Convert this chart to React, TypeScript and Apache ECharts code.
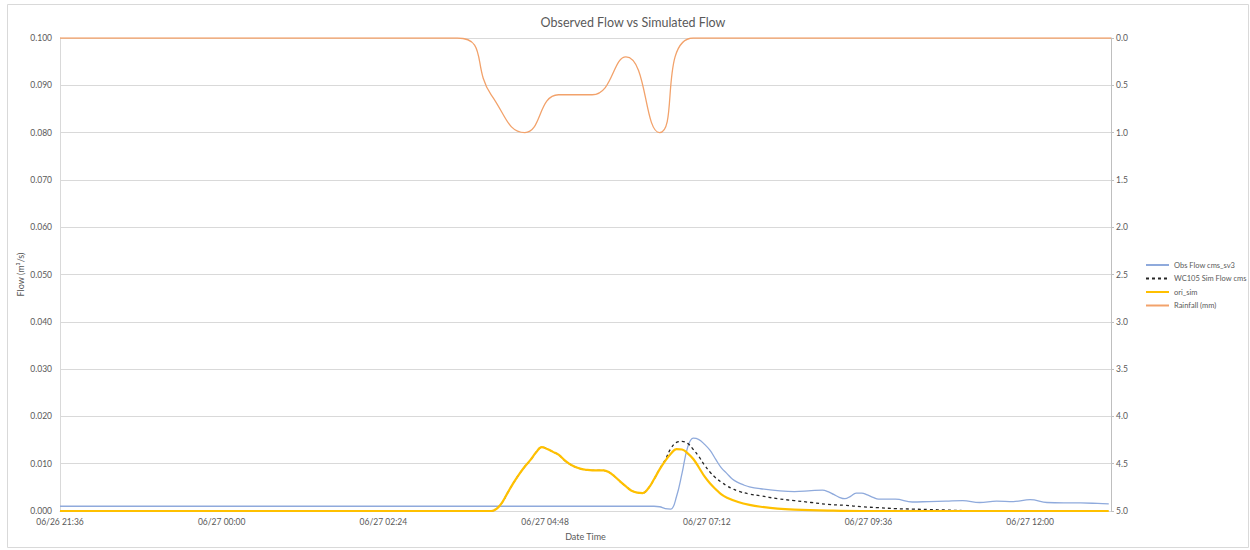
import React, { useEffect, useRef } from "react";
import * as echarts from "echarts";

// ---- Data ----
const obsTimes = [
  "06/26 21:36", "06/27 06:25", "06/27 06:30", "06/27 06:35", "06/27 06:40", "06/27 06:45",
  "06/27 06:50", "06/27 06:55", "06/27 07:00", "06/27 07:05", "06/27 07:10", "06/27 07:15",
  "06/27 07:20", "06/27 07:25", "06/27 07:30", "06/27 07:35", "06/27 07:40", "06/27 07:45",
  "06/27 07:50", "06/27 08:00", "06/27 08:15", "06/27 08:30", "06/27 08:45", "06/27 08:55",
  "06/27 09:00", "06/27 09:05", "06/27 09:10", "06/27 09:15", "06/27 09:20", "06/27 09:25",
  "06/27 09:30", "06/27 09:35", "06/27 09:40", "06/27 09:45", "06/27 10:00", "06/27 10:15",
  "06/27 10:30", "06/27 10:45", "06/27 11:00", "06/27 11:15", "06/27 11:30", "06/27 11:45",
  "06/27 12:00", "06/27 12:15", "06/27 12:30", "06/27 12:45", "06/27 13:00", "06/27 13:10",
];
const obsFlow = [
  0.0010, 0.0010, 0.0009, 0.0005, 0.0004, 0.0030,
  0.0080, 0.0135, 0.0154, 0.0151, 0.0141, 0.0128,
  0.0109, 0.0091, 0.0079, 0.0067, 0.0060, 0.0055,
  0.0051, 0.0047, 0.0043, 0.0041, 0.0043, 0.0044,
  0.0041, 0.0035, 0.0029, 0.0026, 0.0031, 0.0038,
  0.0038, 0.0034, 0.0029, 0.0025, 0.0025, 0.0019,
  0.0020, 0.0021, 0.0022, 0.0018, 0.0021, 0.0020,
  0.0024, 0.0018, 0.0017, 0.0017, 0.0016, 0.0015,
];

const oriTimes = [
  "06/26 21:36", "06/27 04:00", "06/27 04:05", "06/27 04:10", "06/27 04:15", "06/27 04:20",
  "06/27 04:25", "06/27 04:30", "06/27 04:35", "06/27 04:40", "06/27 04:45", "06/27 04:50",
  "06/27 04:55", "06/27 05:00", "06/27 05:05", "06/27 05:10", "06/27 05:15", "06/27 05:20",
  "06/27 05:25", "06/27 05:30", "06/27 05:35", "06/27 05:40", "06/27 05:45", "06/27 05:50",
  "06/27 05:55", "06/27 06:00", "06/27 06:05", "06/27 06:10", "06/27 06:15", "06/27 06:20",
  "06/27 06:25", "06/27 06:30", "06/27 06:35", "06/27 06:40", "06/27 06:45", "06/27 06:50",
  "06/27 06:55", "06/27 07:00", "06/27 07:05", "06/27 07:10", "06/27 07:15", "06/27 07:20",
  "06/27 07:25", "06/27 07:30", "06/27 07:40", "06/27 07:50", "06/27 08:00", "06/27 08:15",
  "06/27 08:30", "06/27 09:00", "06/27 09:30", "06/27 13:10",
];
const oriSim = [
  0.0000, 0.0000, 0.0005, 0.0019, 0.0040, 0.0060,
  0.0078, 0.0094, 0.0108, 0.0124, 0.0135, 0.0131,
  0.0125, 0.0119, 0.0108, 0.0099, 0.0093, 0.0089,
  0.0087, 0.0086, 0.0086, 0.0086, 0.0082, 0.0073,
  0.0062, 0.0052, 0.0043, 0.0039, 0.0038, 0.0048,
  0.0067, 0.0088, 0.0106, 0.0121, 0.0131, 0.0130,
  0.0122, 0.0110, 0.0092, 0.0073, 0.0058, 0.0046,
  0.0035, 0.0028, 0.0019, 0.0013, 0.0009, 0.0005,
  0.0003, 0.0001, 0.0000, 0.0000,
];

const wcTimes = [
  "06/26 21:36", "06/27 04:00", "06/27 04:05", "06/27 04:10", "06/27 04:15", "06/27 04:20",
  "06/27 04:25", "06/27 04:30", "06/27 04:35", "06/27 04:40", "06/27 04:45", "06/27 04:50",
  "06/27 04:55", "06/27 05:00", "06/27 05:05", "06/27 05:10", "06/27 05:15", "06/27 05:20",
  "06/27 05:25", "06/27 05:30", "06/27 05:35", "06/27 05:40", "06/27 05:45", "06/27 05:50",
  "06/27 05:55", "06/27 06:00", "06/27 06:05", "06/27 06:10", "06/27 06:15", "06/27 06:20",
  "06/27 06:25", "06/27 06:30", "06/27 06:35", "06/27 06:40", "06/27 06:45", "06/27 06:50",
  "06/27 06:55", "06/27 07:00", "06/27 07:05", "06/27 07:10", "06/27 07:15", "06/27 07:20",
  "06/27 07:25", "06/27 07:30", "06/27 07:35", "06/27 07:40", "06/27 07:50", "06/27 08:00",
  "06/27 08:15", "06/27 08:30", "06/27 08:45", "06/27 09:00", "06/27 09:15", "06/27 09:30",
  "06/27 09:45", "06/27 10:00", "06/27 10:15", "06/27 10:30", "06/27 10:45", "06/27 11:00",
  "06/27 11:30", "06/27 13:10",
];
const wcSim = [
  0.0000, 0.0000, 0.0005, 0.0019, 0.0040, 0.0060,
  0.0078, 0.0094, 0.0108, 0.0124, 0.0135, 0.0131,
  0.0125, 0.0119, 0.0108, 0.0099, 0.0093, 0.0089,
  0.0087, 0.0086, 0.0086, 0.0086, 0.0082, 0.0073,
  0.0062, 0.0052, 0.0043, 0.0039, 0.0038, 0.0048,
  0.0067, 0.0089, 0.0108, 0.0132, 0.0145, 0.0147,
  0.0143, 0.0130, 0.0115, 0.0097, 0.0082, 0.0070,
  0.0061, 0.0053, 0.0047, 0.0042, 0.0036, 0.0032,
  0.0026, 0.0022, 0.0018, 0.0014, 0.0012, 0.0009,
  0.0007, 0.0005, 0.0004, 0.0003, 0.0002, 0.0001,
  0.0000, 0.0000,
];

const rainTimes = [
  "06/26 21:36", "06/27 03:30", "06/27 04:00", "06/27 04:30", "06/27 05:00", "06/27 05:30",
  "06/27 06:00", "06/27 06:30", "06/27 07:00", "06/27 13:12",
];
const rainfall = [0, 0, 0.6, 1.0, 0.6, 0.6, 0.2, 1.0, 0, 0];

const seriesNames = ["Obs Flow cms_sv3", "WC105 Sim Flow cms", "ori_sim", "Rainfall (mm)"];
const chartTitle = "Observed Flow vs Simulated Flow";
const xAxisName = "Date Time";
const yAxisName = "Flow (m³/s)";

// axis origin: 06/26 21:36, axis span in minutes, tick step (2.4 h)
const ORIGIN_MIN = 21 * 60 + 36;
const AXIS_SPAN = 936;
const TICK_STEP = 144;

function toMin(s: string): number {
  const [md, hm] = s.split(" ");
  const [, d] = md.split("/").map(Number);
  const [h, mi] = hm.split(":").map(Number);
  return (d - 26) * 1440 + h * 60 + mi - ORIGIN_MIN;
}
const pad = (n: number) => (n < 10 ? "0" + n : "" + n);
function fmtMin(v: number): string {
  const total = Math.round(v) + ORIGIN_MIN;
  const day = 26 + Math.floor(total / 1440);
  const rem = total % 1440;
  return "06/" + day + " " + pad(Math.floor(rem / 60)) + ":" + pad(rem % 60);
}
const pairs = (t: string[], v: number[]) => t.map((s, i) => [toMin(s), v[i]]);

const TEXT = "#595959";
const FONT = "Lato, 'Noto Sans', sans-serif";

export default function App() {
  const ref = useRef<HTMLDivElement>(null);
  useEffect(() => {
    if (!ref.current) return;
    const chart = echarts.init(ref.current, null, { renderer: "svg" });
    chart.setOption({
      animation: false,
      backgroundColor: "#ffffff",
      textStyle: { fontFamily: FONT },
      title: {
        text: chartTitle,
        left: 628,
        textAlign: "center",
        top: 11,
        textStyle: { color: TEXT, fontSize: 12.5, fontWeight: "normal", fontFamily: FONT },
      },
      graphic: [
        {
          type: "rect",
          shape: { x: 7.5, y: 4.5, width: 1241, height: 543 },
          style: { fill: "none", stroke: "#d9d9d9", lineWidth: 1 },
          silent: true,
        },
      ],
      legend: {
        orient: "vertical",
        left: 1145,
        top: 261,
        itemWidth: 23,
        itemHeight: 10,
        itemGap: 5.5,
        padding: 0,
        data: seriesNames,
        itemStyle: { opacity: 0 },
        textStyle: { color: TEXT, fontSize: 7.5, fontFamily: FONT },
      },
      grid: { left: 60, right: 139, top: 38, bottom: 39, containLabel: false },
      xAxis: {
        type: "value",
        min: 0,
        max: AXIS_SPAN,
        interval: TICK_STEP,
        name: xAxisName,
        nameLocation: "middle",
        nameGap: 21,
        nameTextStyle: { color: TEXT, fontSize: 9, fontFamily: FONT },
        axisLine: { show: true, lineStyle: { color: "#d9d9d9" } },
        axisTick: { show: false },
        splitLine: { show: false },
        axisLabel: {
          color: TEXT,
          fontSize: 8.5,
          margin: 6,
          showMaxLabel: false,
          formatter: (v: number) => (v % TICK_STEP === 0 ? fmtMin(v) : ""),
        },
      },
      yAxis: [
        {
          type: "value",
          min: 0,
          max: 0.1,
          interval: 0.01,
          name: yAxisName,
          nameLocation: "middle",
          nameRotate: 90,
          nameGap: 35,
          nameMoveOverlap: false,
          nameTextStyle: { color: TEXT, fontSize: 9, fontFamily: FONT },
          axisLine: { show: true, lineStyle: { color: "#d9d9d9" } },
          axisTick: { show: false },
          splitLine: { show: true, lineStyle: { color: "#d9d9d9", width: 1 } },
          axisLabel: {
            color: TEXT,
            fontSize: 8.5,
            margin: 8,
            formatter: (v: number) => v.toFixed(3),
          },
        },
        {
          type: "value",
          min: 0,
          max: 5,
          interval: 0.5,
          inverse: true,
          position: "right",
          axisLine: { show: true, lineStyle: { color: "#bfbfbf" } },
          axisTick: { show: true, length: 3, lineStyle: { color: "#bfbfbf" } },
          splitLine: { show: false },
          axisLabel: {
            color: TEXT,
            fontSize: 8.5,
            margin: 5,
            formatter: (v: number) => v.toFixed(1),
          },
        },
      ],
      series: [
        {
          name: seriesNames[0],
          type: "line",
          symbol: "none",
          smooth: 0.4,
          data: pairs(obsTimes, obsFlow),
          lineStyle: { color: "#8faadc", width: 1.3 },
          itemStyle: { color: "#8faadc" },
        },
        {
          name: seriesNames[1],
          type: "line",
          symbol: "none",
          smooth: 0.4,
          data: pairs(wcTimes, wcSim),
          lineStyle: { color: "#262626", width: 1.3, type: [3, 3] },
          itemStyle: { color: "#262626" },
        },
        {
          name: seriesNames[2],
          type: "line",
          symbol: "none",
          smooth: 0.4,
          data: pairs(oriTimes, oriSim),
          lineStyle: { color: "#ffc000", width: 2.2 },
          itemStyle: { color: "#ffc000" },
        },
        {
          name: seriesNames[3],
          type: "line",
          symbol: "none",
          smooth: 0.5,
          yAxisIndex: 1,
          data: pairs(rainTimes, rainfall),
          lineStyle: { color: "#f2a26b", width: 1.3 },
          itemStyle: { color: "#f2a26b" },
        },
      ],
    });
    return () => chart.dispose();
  }, []);
  return (
    <div
      ref={ref}
      style={{ position: "absolute", left: 0, top: 0, width: 1250, height: 550, background: "#fff" }}
    />
  );
}
